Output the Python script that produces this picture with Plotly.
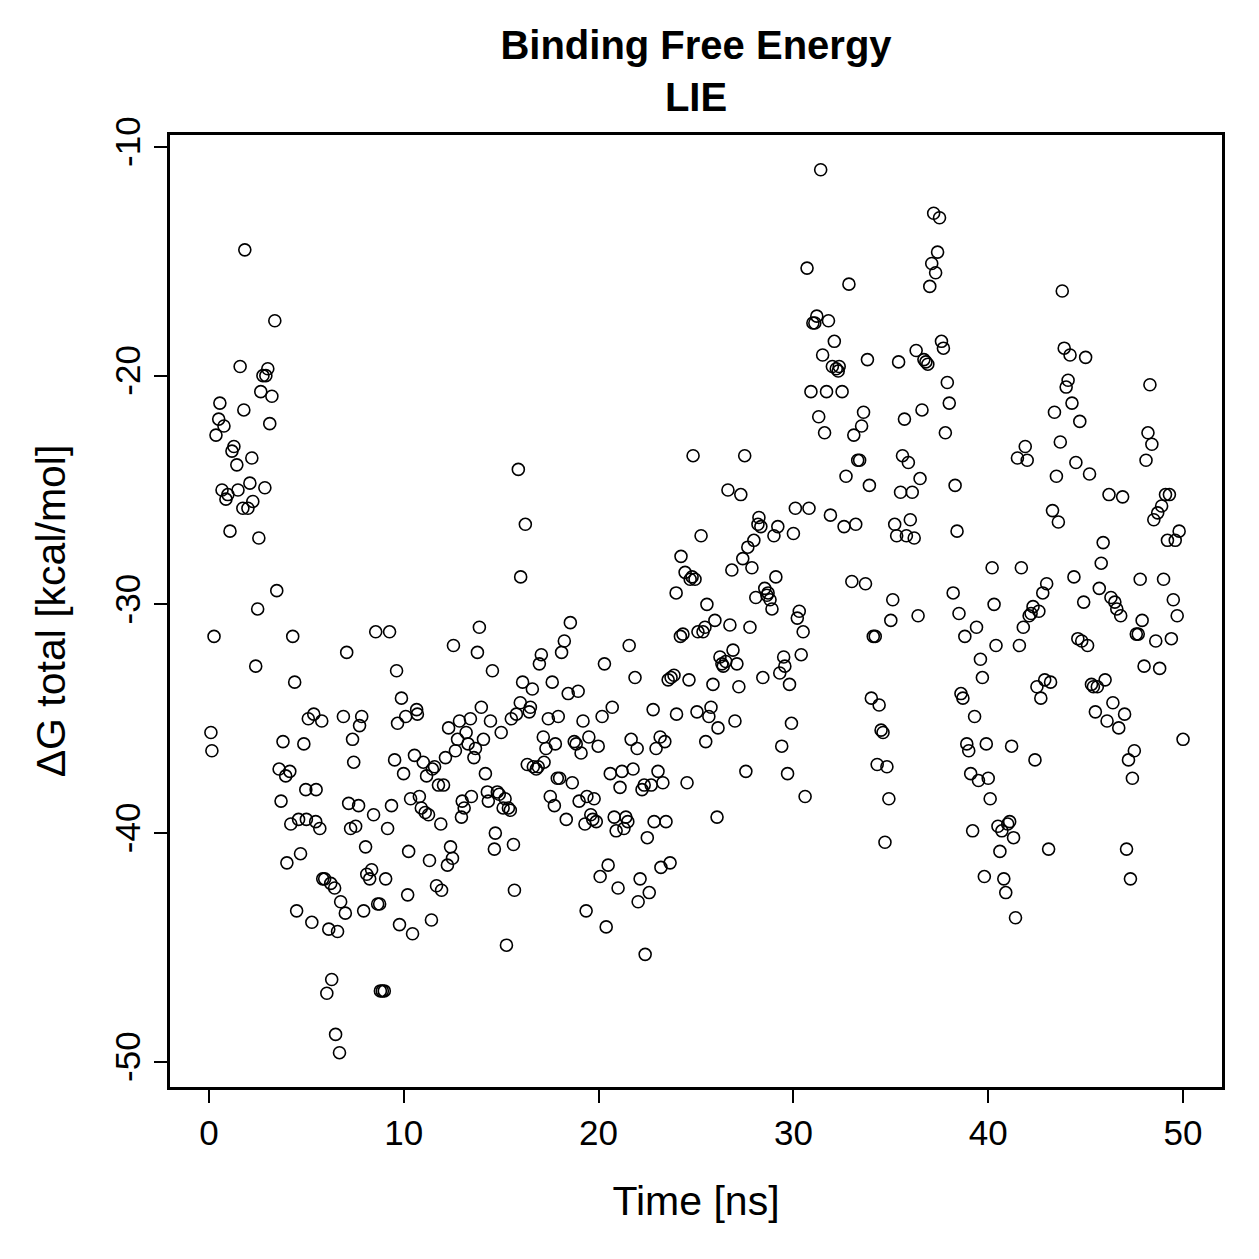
import plotly.graph_objects as go

time_ns = [
0.1,0.15,0.26,0.36,0.5,0.56,0.67,0.77,0.87,0.97,1.08,1.18,1.28,1.43,1.49,1.6,1.74,1.79,1.84,2.0,
2.1,2.2,2.25,2.4,2.5,2.56,2.66,2.77,2.87,2.92,3.02,3.12,3.23,3.38,3.48,3.6,3.7,3.8,3.94,4.0,
4.15,4.2,4.3,4.4,4.5,4.6,4.7,4.87,4.97,5.0,5.1,5.28,5.38,5.48,5.5,5.69,5.79,5.84,5.94,6.05,
6.15,6.25,6.3,6.45,6.5,6.6,6.7,6.76,6.9,7.0,7.07,7.17,7.27,7.37,7.43,7.53,7.68,7.73,7.84,7.94,
8.04,8.1,8.25,8.35,8.45,8.56,8.66,8.76,8.8,8.9,9.0,9.07,9.17,9.27,9.37,9.53,9.63,9.68,9.78,9.88,
9.99,10.1,10.2,10.25,10.35,10.45,10.55,10.66,10.7,10.8,10.9,11.0,11.1,11.17,11.27,11.32,11.42,11.47,11.58,11.68,
11.78,11.9,11.94,12.04,12.14,12.24,12.3,12.4,12.5,12.55,12.65,12.76,12.86,12.96,13.0,13.1,13.2,13.3,13.42,13.47,
13.6,13.68,13.78,13.88,13.98,14.09,14.19,14.29,14.34,14.45,14.55,14.65,14.7,14.8,14.9,15.0,15.1,15.2,15.27,15.37,
15.47,15.52,15.63,15.68,15.78,15.88,15.98,16.0,16.1,16.24,16.34,16.44,16.5,16.6,16.65,16.8,16.9,16.96,17.06,17.16,
17.2,17.3,17.42,17.52,17.62,17.73,17.78,17.88,17.93,18.0,18.1,18.24,18.34,18.44,18.55,18.65,18.75,18.85,18.95,19.0,
19.1,19.2,19.3,19.36,19.4,19.5,19.6,19.7,19.77,19.88,19.98,20.08,20.18,20.3,20.39,20.49,20.6,20.7,20.8,20.9,
21.0,21.1,21.2,21.3,21.4,21.5,21.57,21.67,21.77,21.87,21.98,22.03,22.13,22.23,22.34,22.39,22.5,22.6,22.7,22.8,
22.85,22.95,23.05,23.16,23.2,23.3,23.4,23.46,23.57,23.67,23.72,23.87,23.98,24.0,24.2,24.23,24.33,24.44,24.54,24.64,
24.7,24.8,24.85,24.95,25.05,25.1,25.26,25.36,25.46,25.5,25.56,25.66,25.77,25.87,25.97,26.08,26.13,26.23,26.33,26.4,
26.53,26.64,26.74,26.84,26.9,27.0,27.1,27.2,27.3,27.4,27.5,27.56,27.66,27.77,27.87,27.97,28.07,28.18,28.23,28.33,
28.43,28.53,28.64,28.7,28.8,28.9,29.0,29.1,29.2,29.3,29.4,29.5,29.56,29.7,29.8,29.9,30.0,30.1,30.2,30.3,
30.4,30.5,30.6,30.7,30.8,30.9,31.0,31.1,31.2,31.3,31.4,31.5,31.6,31.7,31.8,31.9,32.0,32.1,32.2,32.3,
32.35,32.5,32.6,32.7,32.85,33.0,33.1,33.2,33.3,33.4,33.5,33.6,33.7,33.8,33.9,34.0,34.1,34.2,34.3,34.4,
34.5,34.6,34.7,34.8,34.9,35.0,35.1,35.2,35.3,35.4,35.5,35.6,35.7,35.8,35.9,36.0,36.1,36.2,36.3,36.4,
36.5,36.6,36.7,36.8,36.9,37.0,37.1,37.2,37.3,37.4,37.5,37.6,37.7,37.8,37.9,38.0,38.2,38.3,38.4,38.5,
38.6,38.7,38.8,38.9,39.0,39.1,39.2,39.3,39.4,39.5,39.6,39.7,39.8,39.9,40.0,40.1,40.2,40.3,40.4,40.5,
40.6,40.7,40.8,40.9,41.0,41.1,41.2,41.3,41.4,41.5,41.6,41.7,41.8,41.9,42.0,42.1,42.2,42.3,42.4,42.5,
42.6,42.7,42.8,42.9,43.0,43.1,43.2,43.3,43.4,43.5,43.6,43.7,43.8,43.9,44.0,44.1,44.2,44.3,44.4,44.5,
44.6,44.7,44.8,44.9,45.0,45.1,45.2,45.3,45.4,45.5,45.6,45.7,45.8,45.9,46.0,46.1,46.2,46.3,46.4,46.5,
46.6,46.7,46.8,46.9,47.0,47.1,47.2,47.3,47.4,47.5,47.6,47.7,47.8,47.9,48.0,48.1,48.2,48.3,48.4,48.5,
48.6,48.7,48.8,48.9,49.0,49.1,49.2,49.3,49.4,49.5,49.6,49.7,49.8,50.0,
]

dg_total = [
-35.6,-36.4,-31.4,-22.6,-21.9,-21.2,-25.0,-22.2,-25.4,-25.2,-26.8,-23.3,-23.1,-23.9,-25.0,-19.6,-25.8,-21.5,-14.5,-25.8,
-24.7,-23.6,-25.5,-32.7,-30.2,-27.1,-20.7,-20.0,-24.9,-20.0,-19.7,-22.1,-20.9,-17.6,-29.4,-37.2,-38.6,-36.0,-37.5,-41.3,
-37.3,-39.6,-31.4,-33.4,-43.4,-39.4,-40.9,-36.1,-38.1,-39.4,-35.0,-43.9,-34.8,-39.5,-38.1,-39.8,-35.1,-42.0,-42.0,-47.0,
-44.2,-42.2,-46.4,-42.4,-48.8,-44.3,-49.6,-43.0,-34.9,-43.5,-32.1,-38.7,-39.8,-35.9,-36.9,-39.7,-38.8,-35.3,-34.9,-43.4,
-40.6,-41.8,-42.0,-41.6,-39.2,-31.2,-43.1,-43.1,-46.9,-46.9,-46.9,-42.0,-39.8,-31.2,-38.8,-36.8,-32.9,-35.2,-44.0,-34.1,
-37.4,-34.9,-42.7,-40.8,-38.5,-44.4,-36.6,-34.6,-34.8,-38.4,-38.9,-36.9,-39.1,-37.5,-39.2,-41.2,-43.8,-37.2,-37.1,-42.3,
-37.9,-39.6,-42.5,-37.9,-36.7,-41.4,-35.4,-40.6,-41.1,-31.8,-36.4,-35.9,-35.1,-39.3,-38.6,-38.9,-35.6,-36.1,-35.0,-38.4,
-36.7,-36.3,-32.1,-31.0,-34.5,-35.9,-37.4,-38.2,-38.6,-35.1,-32.9,-40.7,-40.0,-38.2,-38.3,-35.6,-38.9,-38.5,-44.9,-38.9,
-39.0,-35.0,-40.5,-42.5,-34.8,-24.1,-34.3,-28.8,-33.4,-26.5,-37.0,-34.7,-34.5,-33.7,-37.1,-37.2,-37.1,-32.6,-32.2,-35.8,
-36.9,-36.3,-35.0,-38.4,-33.4,-38.8,-36.1,-37.6,-34.9,-37.6,-32.1,-31.6,-39.4,-33.9,-30.8,-37.8,-36.0,-36.1,-33.8,-38.6,
-36.5,-35.1,-39.6,-43.4,-38.4,-35.8,-39.2,-39.4,-38.5,-39.5,-36.2,-41.9,-34.9,-32.6,-44.1,-41.4,-37.4,-34.5,-39.3,-39.9,
-42.4,-38.0,-37.3,-39.8,-39.3,-39.5,-31.8,-35.9,-37.2,-33.2,-36.3,-43.0,-42.0,-38.1,-37.9,-45.3,-40.2,-42.6,-37.9,-34.6,
-39.5,-36.3,-37.3,-35.8,-41.5,-37.8,-36.0,-39.5,-33.3,-41.3,-33.2,-33.1,-29.5,-34.8,-31.4,-27.9,-31.3,-28.6,-37.8,-33.3,
-28.9,-28.8,-23.5,-28.9,-34.7,-31.2,-27.0,-31.2,-31.0,-36.0,-30.0,-34.9,-34.5,-33.5,-30.7,-39.3,-35.4,-32.3,-32.6,-32.7,
-32.5,-25.0,-30.9,-28.5,-32.0,-35.1,-32.6,-33.6,-25.2,-28.0,-23.5,-37.3,-27.5,-31.0,-28.4,-27.2,-29.7,-26.5,-26.2,-26.6,
-33.2,-29.3,-29.6,-29.5,-29.8,-30.2,-27.0,-28.8,-26.6,-33.0,-36.2,-32.3,-32.7,-37.4,-33.5,-35.2,-26.9,-25.8,-30.6,-30.3,
-32.2,-31.2,-38.4,-15.3,-25.8,-20.7,-17.7,-17.7,-17.4,-21.8,-11.0,-19.1,-22.5,-20.7,-17.6,-26.1,-19.6,-18.5,-19.7,-19.8,
-19.6,-20.7,-26.6,-24.4,-16.0,-29.0,-22.6,-26.5,-23.7,-23.7,-22.2,-21.6,-29.1,-19.3,-24.8,-34.1,-31.4,-31.4,-37.0,-34.4,
-35.5,-35.6,-40.4,-37.1,-38.5,-30.7,-29.8,-26.5,-27.0,-19.4,-25.1,-23.5,-21.9,-27.0,-23.8,-26.3,-25.1,-27.1,-18.9,-30.5,
-24.5,-21.5,-19.3,-19.4,-19.5,-16.1,-15.1,-12.9,-15.5,-14.6,-13.1,-18.5,-18.8,-22.5,-20.3,-21.2,-29.5,-24.8,-26.8,-30.4,
-33.9,-34.1,-31.4,-36.1,-36.4,-37.4,-39.9,-34.9,-31.0,-37.7,-32.4,-33.2,-41.9,-36.1,-37.6,-38.5,-28.4,-30.0,-31.8,-39.7,
-40.8,-39.9,-42.0,-42.6,-39.6,-39.5,-36.2,-40.2,-43.7,-23.6,-31.8,-28.4,-31.0,-23.1,-23.7,-30.5,-30.4,-30.1,-36.8,-33.6,
-30.3,-34.1,-29.5,-33.3,-29.1,-40.7,-33.4,-25.9,-21.6,-24.4,-26.4,-22.9,-16.3,-18.8,-20.5,-20.2,-19.1,-21.2,-28.8,-23.8,
-31.5,-22.0,-31.6,-29.9,-19.2,-31.8,-24.3,-33.5,-33.6,-34.7,-33.6,-29.3,-28.2,-27.3,-33.3,-35.1,-25.2,-29.7,-34.3,-29.9,
-30.2,-35.4,-30.5,-25.3,-34.8,-40.7,-36.8,-42.0,-37.6,-36.4,-31.3,-31.3,-28.9,-30.7,-32.7,-23.7,-22.5,-20.4,-23.0,-26.3,
-31.6,-26.0,-32.8,-25.7,-28.9,-25.2,-27.2,-25.2,-31.5,-29.8,-27.2,-30.5,-26.8,-35.9,
]

x_ticks = [0, 10, 20, 30, 40, 50]
y_ticks = [-50, -40, -30, -20, -10]

FONT = "Liberation Sans, Arial, Helvetica, sans-serif"

fig = go.Figure()
fig.add_trace(go.Scatter(
    x=time_ns, y=dg_total, mode="markers",
    marker=dict(symbol="circle-open", size=12, color="black", line=dict(width=1.6, color="black")),
    showlegend=False, hoverinfo="skip",
))

fig.update_layout(
    width=1259, height=1259,
    margin=dict(l=170, r=37, t=135, b=172),
    paper_bgcolor="white", plot_bgcolor="white",
    font=dict(family=FONT, color="black", size=35),
    title=dict(
        text="<b>Binding Free Energy</b><br><b>LIE</b>",
        x=0.5, xref="paper", xanchor="center",
        y=1 - 59 / 1259, yref="container", yanchor="middle",
        font=dict(family=FONT, size=40, color="black"),
    ),
)

fig.update_xaxes(
    range=[-2, 52], tickmode="array", tickvals=x_ticks, ticktext=[str(v) for v in x_ticks],
    showgrid=False, zeroline=False, showline=True, mirror=True, linecolor="black", linewidth=2.5,
    ticks="outside", ticklen=13, tickwidth=2, tickcolor="black",
    tickfont=dict(size=35), title=dict(text="Time [ns]", font=dict(size=41), standoff=36),
)
fig.update_yaxes(
    range=[-51.1, -9.48], tickmode="array", tickvals=y_ticks, ticktext=[str(v) for v in y_ticks],
    tickangle=-90,
    showgrid=False, zeroline=False, showline=True, mirror=True, linecolor="black", linewidth=2.5,
    ticks="outside", ticklen=13, tickwidth=2, tickcolor="black",
    tickfont=dict(size=35), title=dict(text="ΔG total [kcal/mol]", font=dict(size=41), standoff=30),
)

fig.write_html("out.html")
